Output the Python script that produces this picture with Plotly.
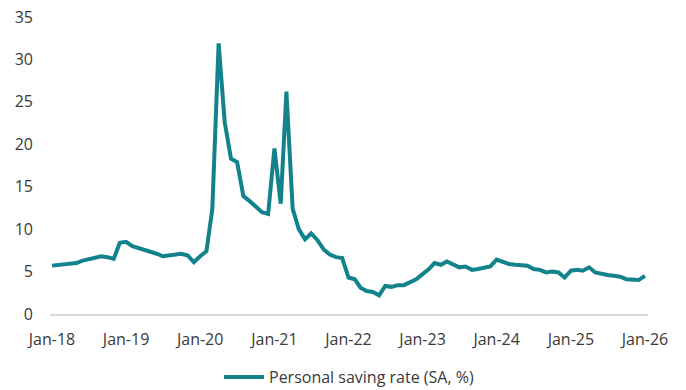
import plotly.graph_objects as go
import pandas as pd

months = pd.date_range("2018-01-01", "2026-01-01", freq="MS")

saving_2018 = [5.7, 5.8, 5.9, 6.0, 6.0, 6.3, 6.5, 6.6, 6.8, 6.7, 6.5, 8.4]
saving_2019 = [8.5, 8.0, 7.8, 7.5, 7.3, 7.1, 6.8, 6.9, 7.0, 7.1, 6.9, 6.1]
saving_2020 = [6.8, 7.4, 12.4, 31.9, 22.6, 18.3, 17.9, 13.9, 13.3, 12.7, 12.0, 11.8]
saving_2021 = [19.5, 13.0, 26.2, 12.4, 10.0, 8.8, 9.5, 8.7, 7.6, 7.0, 6.7, 6.6]
saving_2022 = [4.3, 4.1, 3.1, 2.7, 2.6, 2.2, 3.3, 3.2, 3.4, 3.4, 3.7, 4.1]
saving_2023 = [4.7, 5.3, 6.0, 5.8, 6.2, 5.9, 5.5, 5.6, 5.2, 5.3, 5.5, 5.6]
saving_2024 = [6.4, 6.1, 5.9, 5.8, 5.8, 5.7, 5.3, 5.2, 4.9, 5.0, 4.9, 4.3]
saving_2025 = [5.1, 5.2, 5.1, 5.5, 4.9, 4.7, 4.6, 4.5, 4.4, 4.1, 4.0, 4.0]
saving_2026 = [4.5]

saving_rate = (saving_2018 + saving_2019 + saving_2020 + saving_2021 + saving_2022
               + saving_2023 + saving_2024 + saving_2025 + saving_2026)

series_name = "Personal saving rate (SA, %)"
y_ticks = [0, 5, 10, 15, 20, 25, 30, 35]

fig = go.Figure()
fig.add_trace(go.Scatter(
    x=months, y=saving_rate, mode="lines", name=series_name,
    line=dict(color="#12838D", width=4),
))

font_family = "Open Sans"
text_color = "#3A3A3A"

fig.update_layout(
    width=686, height=390,
    margin=dict(l=50, r=38, t=17, b=76, autoexpand=False),
    paper_bgcolor="white", plot_bgcolor="white",
    font=dict(family=font_family, size=16, color=text_color),
    showlegend=True,
    legend=dict(orientation="h", x=0.5, xanchor="center",
                yref="container", y=0.033, yanchor="middle",
                font=dict(size=16, color=text_color), itemwidth=40),
    xaxis=dict(
        type="date",
        range=["2017-12-22", "2026-01-16"],
        tick0="2018-01-01", dtick="M12", tickformat="%b-%y",
        showgrid=False, zeroline=False,
        showline=True, linecolor="#D9D9D9", linewidth=1.5,
        ticks="outside", ticklen=10, tickcolor="rgba(0,0,0,0)",
        tickfont=dict(size=16, color=text_color),
    ),
    yaxis=dict(
        range=[0, 35], tickvals=y_ticks,
        showgrid=False, zeroline=False, showline=False,
        ticks="", ticklabelstandoff=16,
        tickfont=dict(size=16, color=text_color),
    ),
)

fig.write_html("out.html")
